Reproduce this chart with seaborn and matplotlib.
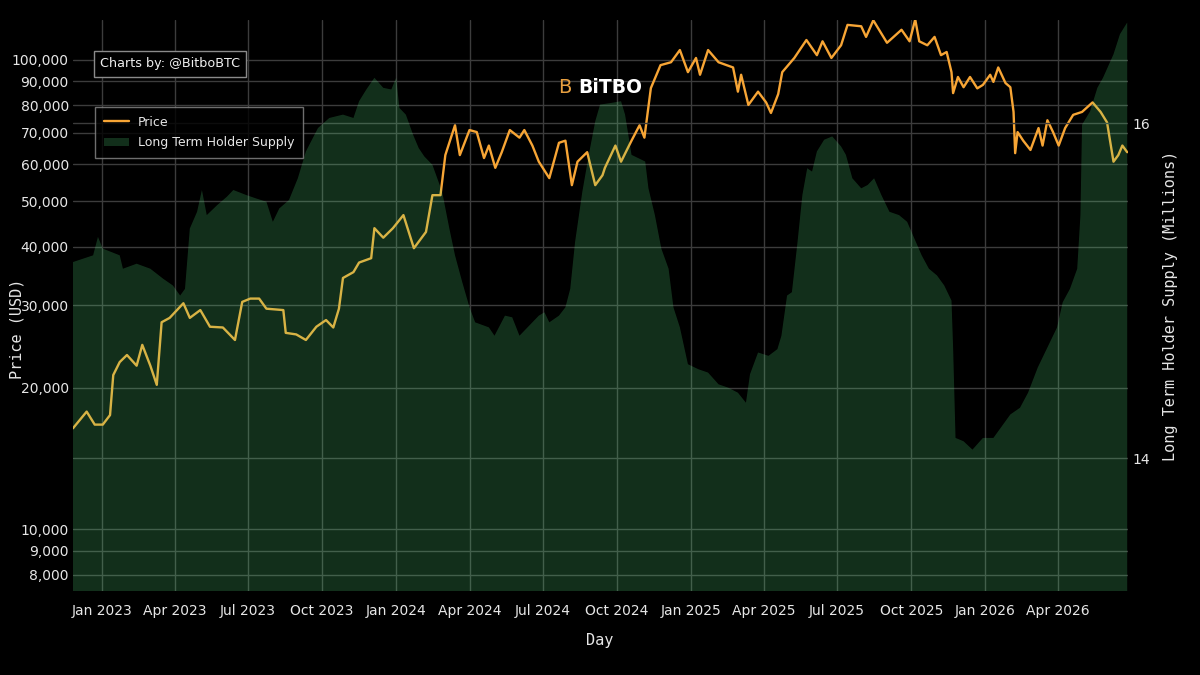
import pandas as pd
import seaborn as sns
import matplotlib.pyplot as plt
import matplotlib.dates as mdates
from matplotlib.ticker import FixedLocator, FuncFormatter
from matplotlib.lines import Line2D
from matplotlib.patches import Patch

# Price (USD)
price_dates = [
    "2022-11-26", "2022-12-13", "2022-12-23", "2023-01-02", "2023-01-11", "2023-01-15",
    "2023-01-23", "2023-02-01", "2023-02-13", "2023-02-20", "2023-03-02", "2023-03-10",
    "2023-03-16", "2023-03-26", "2023-04-12", "2023-04-20", "2023-05-03", "2023-05-15",
    "2023-05-31", "2023-06-15", "2023-06-24", "2023-07-04", "2023-07-15", "2023-07-24",
    "2023-08-14", "2023-08-17", "2023-08-30", "2023-09-11", "2023-09-24", "2023-10-06",
    "2023-10-15", "2023-10-22", "2023-10-27", "2023-11-09", "2023-11-16", "2023-12-01",
    "2023-12-05", "2023-12-16", "2023-12-28", "2024-01-10", "2024-01-23", "2024-02-07",
    "2024-02-15", "2024-02-25", "2024-03-02", "2024-03-14", "2024-03-20", "2024-04-01",
    "2024-04-10", "2024-04-19", "2024-04-25", "2024-05-03", "2024-05-11", "2024-05-21",
    "2024-06-02", "2024-06-08", "2024-06-18", "2024-06-26", "2024-07-09", "2024-07-21",
    "2024-07-29", "2024-08-06", "2024-08-13", "2024-08-25", "2024-09-04", "2024-09-13",
    "2024-09-16", "2024-09-29", "2024-10-06", "2024-10-19", "2024-10-29", "2024-11-04",
    "2024-11-12", "2024-11-24", "2024-12-07", "2024-12-18", "2024-12-28", "2025-01-07",
    "2025-01-12", "2025-01-22", "2025-02-04", "2025-02-22", "2025-02-28", "2025-03-04",
    "2025-03-13", "2025-03-25", "2025-04-04", "2025-04-10", "2025-04-19", "2025-04-24",
    "2025-05-09", "2025-05-24", "2025-06-06", "2025-06-13", "2025-06-24", "2025-07-06",
    "2025-07-14", "2025-07-31", "2025-08-06", "2025-08-15", "2025-09-01", "2025-09-19",
    "2025-09-29", "2025-10-06", "2025-10-11", "2025-10-21", "2025-10-30", "2025-11-07",
    "2025-11-14", "2025-11-20", "2025-11-22", "2025-11-28", "2025-12-05", "2025-12-13",
    "2025-12-22", "2025-12-29", "2026-01-07", "2026-01-11", "2026-01-17", "2026-01-26",
    "2026-02-01", "2026-02-05", "2026-02-07", "2026-02-10", "2026-02-17", "2026-02-26",
    "2026-03-08", "2026-03-13", "2026-03-19", "2026-03-26", "2026-04-02", "2026-04-10",
    "2026-04-20", "2026-05-01", "2026-05-14", "2026-05-24", "2026-06-01", "2026-06-09",
    "2026-06-15", "2026-06-20", "2026-06-26",
]
price_usd = [
    16400, 17800, 16700, 16700, 17500, 21300,
    22700, 23500, 22300, 24700, 22300, 20300,
    27600, 28200, 30300, 28200, 29300, 27000,
    26900, 25300, 30500, 31000, 31000, 29500,
    29300, 26200, 26000, 25300, 27000, 27900,
    26900, 29500, 34300, 35300, 37000, 37800,
    43800, 41800, 43800, 46700, 39700, 43000,
    51500, 51500, 62700, 72600, 62700, 70900,
    70200, 61800, 65700, 58900, 63600, 70900,
    68300, 70900, 65700, 60700, 56000, 66600,
    67300, 54100, 60700, 63600, 54100, 56800,
    58900, 65700, 60700, 67300, 72600, 68300,
    87100, 97500, 98900, 105000, 94200, 101000,
    93000, 105000, 98900, 96400, 85600, 93000,
    80200, 85600, 81200, 77100, 84600, 94200,
    101000, 110300, 102400, 109600, 101000, 107500,
    118800, 118000, 112000, 121500, 108800, 116000,
    109600, 122000, 109600, 107500, 112000, 102400,
    104000, 94200, 85000, 92000, 87500, 92000,
    87000, 88500, 93000, 89800, 96400, 89300,
    87500, 77500, 63300, 70200, 67300, 64300,
    71600, 65700, 74400, 70200, 65700, 71600,
    76400, 77500, 81200, 77500, 73600, 60700,
    62700, 65700, 63600,
]

# Long Term Holder Supply (millions of BTC)
supply_dates = [
    "2022-11-26", "2022-12-21", "2022-12-27", "2023-01-02", "2023-01-23", "2023-01-27",
    "2023-02-13", "2023-03-02", "2023-03-18", "2023-03-30", "2023-04-08", "2023-04-14",
    "2023-04-20", "2023-04-29", "2023-05-05", "2023-05-11", "2023-05-24", "2023-06-05",
    "2023-06-13", "2023-06-29", "2023-07-11", "2023-07-24", "2023-08-01", "2023-08-09",
    "2023-08-21", "2023-09-01", "2023-09-11", "2023-09-26", "2023-10-10", "2023-10-27",
    "2023-11-09", "2023-11-16", "2023-11-25", "2023-12-05", "2023-12-16", "2023-12-26",
    "2024-01-01", "2024-01-05", "2024-01-13", "2024-01-22", "2024-01-29", "2024-02-05",
    "2024-02-15", "2024-02-27", "2024-03-07", "2024-03-14", "2024-03-23", "2024-04-01",
    "2024-04-08", "2024-04-25", "2024-05-02", "2024-05-15", "2024-05-24", "2024-06-02",
    "2024-06-14", "2024-06-26", "2024-07-03", "2024-07-09", "2024-07-21", "2024-07-29",
    "2024-08-04", "2024-08-10", "2024-08-19", "2024-08-27", "2024-09-04", "2024-09-10",
    "2024-09-24", "2024-10-06", "2024-10-11", "2024-10-19", "2024-11-05", "2024-11-09",
    "2024-11-17", "2024-11-25", "2024-12-04", "2024-12-10", "2024-12-18", "2024-12-28",
    "2025-01-10", "2025-01-22", "2025-02-04", "2025-02-16", "2025-02-28", "2025-03-10",
    "2025-03-15", "2025-03-25", "2025-04-07", "2025-04-18", "2025-04-23", "2025-04-30",
    "2025-05-06", "2025-05-13", "2025-05-19", "2025-05-25", "2025-05-31", "2025-06-06",
    "2025-06-15", "2025-06-25", "2025-07-06", "2025-07-12", "2025-07-20", "2025-07-31",
    "2025-08-08", "2025-08-16", "2025-08-25", "2025-09-04", "2025-09-16", "2025-09-26",
    "2025-10-05", "2025-10-14", "2025-10-23", "2025-11-02", "2025-11-11", "2025-11-20",
    "2025-11-22", "2025-11-25", "2025-12-05", "2025-12-16", "2025-12-29", "2026-01-11",
    "2026-01-20", "2026-02-01", "2026-02-13", "2026-02-23", "2026-03-07", "2026-03-19",
    "2026-03-31", "2026-04-07", "2026-04-16", "2026-04-25", "2026-04-29", "2026-05-01",
    "2026-05-11", "2026-05-20", "2026-05-27", "2026-06-09", "2026-06-17", "2026-06-26",
]
supply_m = [
    15.17, 15.21, 15.32, 15.25, 15.21, 15.13,
    15.16, 15.13, 15.07, 15.03, 14.97, 15.01,
    15.37, 15.47, 15.60, 15.45, 15.51, 15.56,
    15.60, 15.57, 15.55, 15.53, 15.41, 15.49,
    15.54, 15.67, 15.83, 15.97, 16.03, 16.05,
    16.03, 16.13, 16.20, 16.27, 16.21, 16.20,
    16.27, 16.09, 16.05, 15.93, 15.85, 15.80,
    15.75, 15.59, 15.37, 15.21, 15.05, 14.90,
    14.81, 14.78, 14.73, 14.85, 14.84, 14.73,
    14.79, 14.85, 14.87, 14.81, 14.85, 14.90,
    15.01, 15.29, 15.59, 15.81, 16.01, 16.11,
    16.12, 16.13, 16.05, 15.81, 15.77, 15.61,
    15.45, 15.25, 15.13, 14.90, 14.78, 14.56,
    14.53, 14.51, 14.44, 14.42, 14.39, 14.33,
    14.50, 14.63, 14.61, 14.65, 14.73, 14.97,
    14.99, 15.29, 15.57, 15.73, 15.71, 15.83,
    15.90, 15.92, 15.86, 15.81, 15.67, 15.61,
    15.63, 15.67, 15.57, 15.47, 15.45, 15.41,
    15.31, 15.21, 15.13, 15.09, 15.03, 14.94,
    14.66, 14.12, 14.10, 14.05, 14.12, 14.12,
    14.18, 14.26, 14.30, 14.39, 14.54, 14.66,
    14.78, 14.93, 15.01, 15.13, 15.45, 15.99,
    16.07, 16.21, 16.27, 16.41, 16.53, 16.60,
]

price_ticks = [8000, 9000, 10000, 20000, 30000, 40000, 50000, 60000, 70000, 80000, 90000, 100000]
supply_ticks = [14, 16]

df_price = pd.DataFrame({"Day": pd.to_datetime(price_dates), "Price": price_usd})
df_supply = pd.DataFrame({"Day": pd.to_datetime(supply_dates), "Supply": supply_m})

sns.set_theme(style="dark", rc={
    "figure.facecolor": "black",
    "axes.facecolor": "black",
    "text.color": "#e6e6e6",
    "axes.labelcolor": "#e6e6e6",
    "xtick.color": "#e6e6e6",
    "ytick.color": "#e6e6e6",
})
plt.rcParams["font.family"] = ["DejaVu Sans"]

PRICE_COLOR = "#f7a535"
LTH_COLOR = "#5ff08a"
GRID = "#3c3c3c"

fig = plt.figure(figsize=(12, 6.75), dpi=100)
ax = fig.add_axes([0.0608, 0.1244, 0.8792, 0.846])

# price line, underneath the translucent supply area
sns.lineplot(data=df_price, x="Day", y="Price", ax=ax, color=PRICE_COLOR, lw=1.7, legend=False)
ax.set_yscale("log")
ax.set_ylim(7378, 121700)
ax.set_xlim(pd.Timestamp("2022-11-26"), pd.Timestamp("2026-06-27"))

ax.yaxis.set_major_locator(FixedLocator(price_ticks))
ax.yaxis.set_minor_locator(FixedLocator([]))
ax.yaxis.set_major_formatter(FuncFormatter(lambda v, p: f"{int(v):,}"))
ax.xaxis.set_major_locator(mdates.MonthLocator(bymonth=[1, 4, 7, 10]))
ax.xaxis.set_major_formatter(mdates.DateFormatter("%b %Y"))
ax.tick_params(axis="both", length=0, labelsize=10)
ax.tick_params(axis="x", pad=9)
ax.tick_params(axis="y", pad=3)
ax.grid(True, color=GRID, lw=1)
for s in ax.spines.values():
    s.set_visible(False)

ax.set_xlabel("Day", family="DejaVu Sans Mono", fontsize=11)
ax.xaxis.set_label_coords(0.4995, -0.0736)
ax.set_ylabel("Price (USD)", family="DejaVu Sans Mono", fontsize=11)
ax.yaxis.set_label_coords(-0.0455, 0.46)

# long term holder supply on the right axis
ax2 = ax.twinx()
ax2.fill_between(df_supply["Day"], 0, df_supply["Supply"], color=LTH_COLOR, alpha=0.2, lw=0)
ax2.set_ylim(13.206, 16.615)
ax2.yaxis.set_major_locator(FixedLocator(supply_ticks))
ax2.tick_params(axis="y", length=0, labelsize=10, pad=3)
ax2.grid(True, axis="y", color=GRID, lw=1)
for s in ax2.spines.values():
    s.set_visible(False)
ax2.set_ylabel("Long Term Holder Supply (Millions)", family="DejaVu Sans Mono", fontsize=11)
ax2.yaxis.set_label_coords(1.0332, 0.5)

# legend and credit boxes
handles = [Line2D([0], [0], color=PRICE_COLOR, lw=1.7),
           Patch(facecolor=LTH_COLOR, alpha=0.2, edgecolor="none")]
leg = ax2.legend(handles, ["Price", "Long Term Holder Supply"], loc="upper left",
                 bbox_to_anchor=(0.0209, 0.8476), borderaxespad=0, fontsize=9,
                 frameon=True, fancybox=False, facecolor="black", edgecolor="#8a8a8a",
                 borderpad=0.7, handlelength=2.0, handletextpad=0.7, labelspacing=0.6)
leg.get_frame().set_linewidth(1)
for t in leg.get_texts():
    t.set_color("#e6e6e6")

ax2.text(0.0256, 0.923, "Charts by: @BitboBTC", transform=ax2.transAxes, fontsize=9.2,
         va="center", ha="left", color="#f0f0f0",
         bbox=dict(boxstyle="square,pad=0.5", fc="black", ec="#8a8a8a", lw=1))

ax2.text(0.4595, 0.881, "B", transform=ax2.transAxes, fontsize=14, color="#e8a040",
         va="center", ha="left")
ax2.text(0.4787, 0.881, "BiTBO", transform=ax2.transAxes, fontsize=13.5, color="white",
         va="center", ha="left", fontweight="bold")

fig.savefig("out.png", dpi=100, facecolor="black")
